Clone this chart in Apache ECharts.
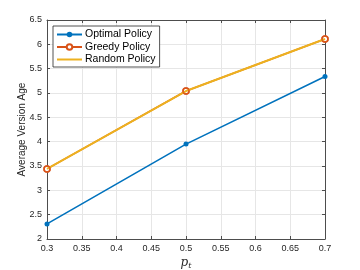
<!DOCTYPE html>
<html><head><meta charset="utf-8">
<script src="https://cdn.jsdelivr.net/npm/echarts@6/dist/echarts.min.js"></script>
<style>html,body{margin:0;padding:0;background:#fff}#c{width:360px;height:270px}</style>
</head><body><div id="c"></div>
<script>
const pt = [0.3, 0.5, 0.7];
const optimal = [2.31, 3.95, 5.34];
const greedy = [3.44, 5.04, 6.11];
const random = [3.44, 5.04, 6.11];
const xTicks = [0.3, 0.35, 0.4, 0.45, 0.5, 0.55, 0.6, 0.65, 0.7];
const yTicks = [2, 2.5, 3, 3.5, 4, 4.5, 5, 5.5, 6, 6.5];

const font = 'Liberation Sans, Arial, sans-serif';
const axisCol = '#4d4d4d';
const chart = echarts.init(document.getElementById('c'));
const pairs = a => pt.map((x, i) => [x, a[i]]);
const baseX = {
  type: 'value', min: 0.3, max: 0.7, interval: 0.05,
  axisLine: {show: true, lineStyle: {color: axisCol, width: 1}},
  axisTick: {show: true, inside: true, length: 3, lineStyle: {color: axisCol}},
  splitLine: {show: false},
};
const baseY = {
  type: 'value', min: 2, max: 6.5, interval: 0.5,
  axisLine: {show: true, lineStyle: {color: axisCol, width: 1}},
  axisTick: {show: true, inside: true, length: 3, lineStyle: {color: axisCol}},
  splitLine: {show: false},
};
chart.setOption({
  animation: false,
  textStyle: {fontFamily: font},
  grid: {left: 47, right: 35, top: 20, bottom: 31, containLabel: false, outerBoundsMode: 'none'},
  legend: {
    data: ['Optimal Policy', 'Greedy Policy', 'Random Policy'],
    orient: 'vertical', left: 53, top: 26, padding: [3, 4, 2, 3], itemGap: 1.5,
    itemWidth: 25, itemHeight: 7,
    borderColor: '#262626', borderWidth: 0.8, backgroundColor: '#fff',
    textStyle: {fontFamily: font, fontSize: 10.5, color: '#000', padding: [0, 0, 0, -2]},
  },
  xAxis: [
    Object.assign({}, baseX, {
      position: 'bottom',
      axisLabel: {fontSize: 9, color: '#262626', margin: 5, fontFamily: font,
        formatter: v => xTicks.includes(+v.toFixed(2)) ? String(+v.toFixed(2)) : ''},
      splitLine: {show: true, lineStyle: {color: '#e6e6e6', width: 1}},
      name: '{i|p}{s|t}', nameLocation: 'middle', nameGap: 17, nameMoveOverlap: false,
      nameTextStyle: {rich: {
        i: {fontFamily: 'DejaVu Serif, serif', fontStyle: 'italic', fontSize: 12, color: '#262626'},
        s: {fontFamily: 'DejaVu Serif, serif', fontStyle: 'italic', fontSize: 8, color: '#262626', verticalAlign: 'bottom', padding: [6, 0, 0, 0]}
      }}
    }),
    Object.assign({}, baseX, {position: 'top', axisLabel: {show: false}})
  ],
  yAxis: [
    Object.assign({}, baseY, {
      position: 'left',
      axisLabel: {fontSize: 9, color: '#262626', margin: 5, fontFamily: font,
        formatter: v => String(+v.toFixed(1))},
      splitLine: {show: true, lineStyle: {color: '#e6e6e6', width: 1}},
      name: 'Average Version Age', nameLocation: 'middle', nameGap: 20, nameMoveOverlap: false,
      nameTextStyle: {fontSize: 10, color: '#262626', fontFamily: font}
    }),
    Object.assign({}, baseY, {position: 'right', axisLabel: {show: false}})
  ],
  series: [
    {name: 'Optimal Policy', type: 'line', data: pairs(optimal), z: 3,
      symbol: 'circle', symbolSize: 5,
      lineStyle: {width: 1.6, color: '#0072BD'}, itemStyle: {color: '#0072BD'}},
    {name: 'Greedy Policy', type: 'line', data: pairs(greedy), z: 2,
      symbol: 'circle', symbolSize: 6,
      lineStyle: {width: 1.6, color: '#D95319'},
      itemStyle: {color: '#fff', borderColor: '#D95319', borderWidth: 1.5}},
    {name: 'Random Policy', type: 'line', data: pairs(random), z: 4,
      symbol: 'circle', showSymbol: false,
      lineStyle: {width: 2, color: '#EDB120'},
      itemStyle: {color: 'rgba(0,0,0,0)', borderWidth: 0, opacity: 0}},
    {name: 'GreedyMarks', type: 'scatter', data: pairs(greedy), z: 5,
      symbol: 'circle', symbolSize: 6,
      itemStyle: {color: 'rgba(0,0,0,0)', borderColor: '#D95319', borderWidth: 1.5}}
  ]
});
</script></body></html>
